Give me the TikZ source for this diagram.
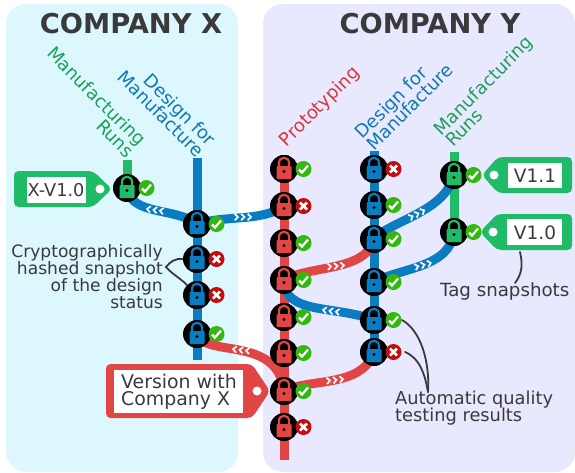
\documentclass[tikz,border=0pt]{standalone}
\usepackage{fontspec}
\setmainfont{DejaVu Sans}
\pgfdeclarelayer{panel}
\pgfdeclarelayer{conn}
\pgfsetlayers{panel,conn,main}
\definecolor{ink}{HTML}{3A3A3A}
\definecolor{bluel}{HTML}{0A7DC2}
\definecolor{redl}{HTML}{E24545}
\definecolor{greenl}{HTML}{20BB66}
\definecolor{bluet}{HTML}{1278AE}
\definecolor{redt}{HTML}{D9363A}
\definecolor{greent}{HTML}{1F9E5A}
\definecolor{okc}{HTML}{33B80F}
\definecolor{badc}{HTML}{C40D0D}
\definecolor{panelx}{HTML}{DDF7FF}
\definecolor{panely}{HTML}{E8E8FF}
\lineskiplimit=-30pt
\tikzset{
  x=1pt,y=-1pt,
  title/.style={font=\fontsize{27.3}{30}\bfseries\selectfont,text=ink,inner sep=0pt},
  note/.style={font=\fontsize{#1}{17}\selectfont,text=ink,inner sep=0pt},
  note/.default=17.8,
  lane/.style={font=\fontsize{18}{16.5}\selectfont,inner sep=0pt},
  tagtext/.style={font=\fontsize{18.5}{18}\selectfont,text=ink,inner sep=0pt},
  track/.style={line width=9pt},
  link/.style={line width=9pt},
  lead/.style={draw=ink,line width=1.8pt,line cap=round},
  commitdot/.style={circle,fill=black,minimum size=28pt,inner sep=0pt},
}
% #1 name, #2 position, #3 colour, #4 1 passed / 0 failed
\newcommand{\commit}[4]{%
  \node[commitdot] (#1) at (#2) {};
  \begin{scope}[shift={(#2)}]
    \fill[#3,rounded corners=1pt] (-7.5,-3) rectangle (7.5,10);
    \draw[#3,line width=2.2pt] (-5,-3) -- (-5,-6) .. controls (-5,-13) and (5,-13) .. (5,-6) -- (5,-3);
    \fill[black] (0,2.5) circle (1.7);
    \ifnum#4=1
      \fill[okc] (19.5,0) circle (8);
      \draw[white,line width=2.2pt] (15,0.5) -- (18,3.5) -- (24,-3.5);
    \else
      \fill[badc] (19.5,0) circle (8);
      \draw[white,line width=2.6pt] (16,-3.5) -- (23,3.5) (16,3.5) -- (23,-3.5);
    \fi
  \end{scope}}
% #1 position, #2 angle, #3 +1 forward / -1 backward
\newcommand{\chevrons}[3]{%
  \begin{scope}[shift={(#1)},rotate=#2,xscale=#3]
    \foreach \cx in {-6.5,0,6.5}
      \draw[white,line width=1.7pt] (\cx-1.8,-3.2) -- (\cx+1.5,0) -- (\cx-1.8,3.2);
  \end{scope}}
% #1 fill, #2 back x, #3 top, #4 bottom, #5 shoulder x, #6 tip x, #7 mid y, #8 hole x
\newcommand{\tagshape}[8]{%
  \fill[#1,rounded corners=4.5pt] (#2,#3) -- (#5,#3) -- (#6,#7) -- (#5,#4) -- (#2,#4) -- cycle;
  \fill[white] (#8,#7) circle (4.5);}
\begin{document}
\begin{tikzpicture}
\useasboundingbox (0,0) rectangle (575,472);
\begin{pgfonlayer}{panel}
  \fill[white] (0,0) rectangle (575,472);
  \fill[panelx,rounded corners=20pt] (6,4) rectangle (238,472);
  \fill[panely,rounded corners=20pt] (263,4) rectangle (575,472);
\end{pgfonlayer}
\node[title] (tx) at (131,24) {COMPANY X};
\node[title] (ty) at (430,24) {COMPANY Y};

\node[lane,text=greent,rotate=-45,align=right] (lmx) at (91,102) {Manufacturing\\Runs};
\node[lane,text=bluet,rotate=-45,align=right] (ldx) at (167,108) {Design for\\Manufacture};
\node[lane,text=redt,rotate=45] (lpy) at (320,107) {Prototyping};
\node[lane,text=bluet,rotate=45,align=left] (ldy) at (404,101) {Design for\\Manufacture};
\node[lane,text=greent,rotate=45,align=left] (lmy) at (489,91) {Manufacturing\\Runs};

% tags
\tagshape{greenl}{14}{171}{207}{93}{112}{189}{100}
\fill[white] (27,177) rectangle (86,203);
\node[tagtext,font=\fontsize{17.7}{18}\selectfont] (tagx) at (56,190) {X-V1.0};
\tagshape{greenl}{572}{157}{193}{498}{482}{175}{494}
\fill[white] (508,163) rectangle (562,188);
\node[tagtext] (tagb) at (535,176) {V1.1};
\tagshape{greenl}{572}{214}{250}{497}{480}{232}{493}
\fill[white] (507,219) rectangle (562,245);
\node[tagtext] (taga) at (535,233) {V1.0};
\tagshape{redl}{106}{364}{418}{252}{270}{391}{257}
\fill[white] (114,370) rectangle (243,413);
\node[note=18.9,align=left,anchor=west] (tagv) at (121,391.5) {Version with\\Company X};

% commits
\commit{gx}{127,188}{greenl}{1}
\commit{bxa}{197,224}{bluel}{1}
\commit{bxb}{197,259}{bluel}{0}
\commit{bxc}{197,295}{bluel}{0}
\commit{bxd}{197,334}{bluel}{1}
\commit{ra}{284,169}{redl}{1}
\commit{rb}{284,206}{redl}{0}
\commit{rc}{284,243}{redl}{1}
\commit{rd}{284,280}{redl}{1}
\commit{re}{284,317}{redl}{1}
\commit{rf}{284,353}{redl}{1}
\commit{rg}{284,391}{redl}{1}
\commit{rh}{284,427}{redl}{0}
\commit{bya}{374,169}{bluel}{0}
\commit{byb}{374,205}{bluel}{1}
\commit{byc}{374,239}{bluel}{1}
\commit{byd}{374,282}{bluel}{1}
\commit{bye}{374,320}{bluel}{1}
\commit{byf}{374,352}{bluel}{0}
\commit{gya}{454,175}{greenl}{1}
\commit{gyb}{454,232}{greenl}{1}

\begin{pgfonlayer}{conn}
  % tracks
  \coordinate (tgx) at (127,160);
  \coordinate (tbx) at (197,158);
  \coordinate (ebx) at (197,360);
  \coordinate (trd) at (284,155);
  \coordinate (erd) at (284,460);
  \coordinate (tby) at (374,151);
  \coordinate (tgy) at (454,152);
  \draw[track,greenl] (tgx) -- (gx.center);
  \draw[track,bluel] (tbx) -- (ebx);
  \draw[track,redl] (trd) -- (erd);
  \draw[track,bluel] (tby) -- (byf.center);
  \draw[track,greenl] (tgy) -- (gyb.center);
  % merges
  \draw[link,bluel] (gx.center) .. controls (131,216) and (175,207) .. (bxa.center);
  \draw[link,bluel] (bxa.center) .. controls (225,215) and (262,222) .. (rb.center);
  \draw[link,redl] (bxd.center) .. controls (205,358) and (278,335) .. (rg.center);
  \draw[link,redl] (rg.center) .. controls (310,378) and (362,388) .. (byf.center);
  \draw[link,redl] (rd.center) .. controls (310,265) and (366,272) .. (byc.center);
  \draw[link,bluel] (byc.center) .. controls (392,220) and (445,212) .. (gya.center);
  \draw[link,bluel] (byd.center) .. controls (400,268) and (450,268) .. (gyb.center);
  \draw[link,bluel] (rd.center) .. controls (284,315) and (335,305) .. (bye.center);
  \chevrons{155,210}{-8}{-1}
  \chevrons{243,217}{0}{1}
  \chevrons{241,350}{-6}{-1}
  \chevrons{335,380}{6}{1}
  \chevrons{336,266}{5}{1}
  \chevrons{417,214}{27}{1}
  \chevrons{423,265}{15}{1}
  \chevrons{331,311}{-8}{-1}
\end{pgfonlayer}

% notes
\node[note=17.1,align=right,anchor=east] (ncrypt) at (163,276.5) {Cryptographically\\hashed snapshot\\of the design\\status};
\node[note=18.2,anchor=west] (nsnap) at (440,291) {Tag snapshots};
\node[note,align=left,anchor=west] (nauto) at (395,408.5) {Automatic quality\\testing results};
\coordinate (brace) at (166,267);
\draw[lead] (bxb.west) .. controls (175,258) and (170,262) .. (brace) .. controls (172,274) and (180,278) .. (bxc.north west);
\coordinate (snapa) at (520,252);
\coordinate (snapb) at (515,283);
\draw[lead] (snapa) .. controls (523,265) and (522,274) .. (snapb);
\coordinate (autoa) at (402,320);
\coordinate (autob) at (405,352);
\coordinate (autoc) at (428,392);
\draw[lead] (autoa) .. controls (420,330) and (430,360) .. (autoc);
\draw[lead] (autob) .. controls (420,358) and (425,375) .. (autoc);
\end{tikzpicture}
\end{document}
